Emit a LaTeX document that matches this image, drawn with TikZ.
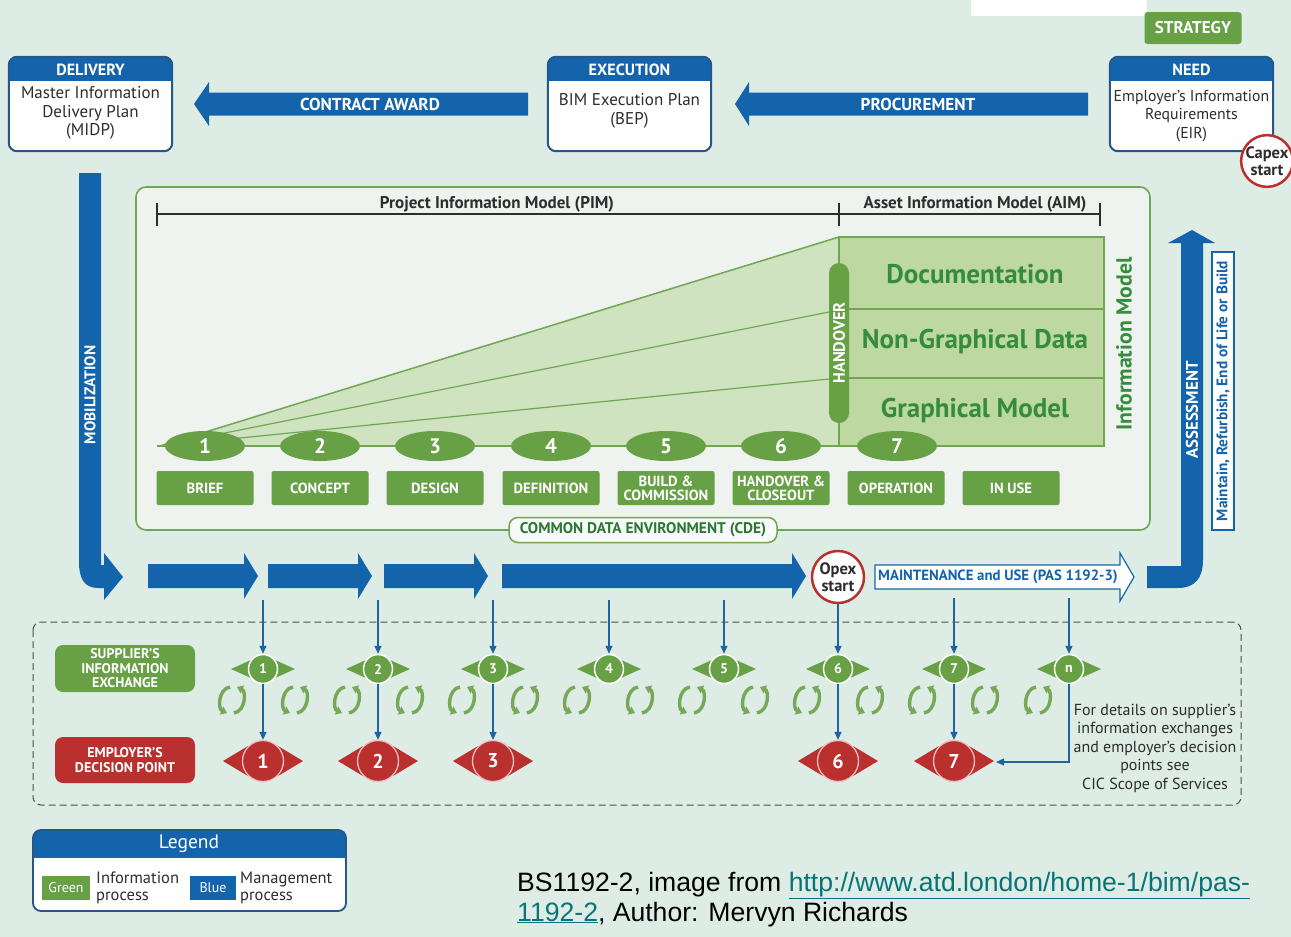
\documentclass[tikz,border=0pt]{standalone}
\usepackage{fontspec}
\setmainfont{PT Sans}
\newfontfamily\capfont{Liberation Sans}
\usetikzlibrary{arrows.meta,shapes.geometric,calc}

\definecolor{bgmint}{RGB}{221,237,229}
\definecolor{panelbg}{RGB}{238,243,239}
\definecolor{mblue}{RGB}{20,100,172}
\definecolor{bdrblue}{RGB}{38,86,138}
\definecolor{igreen}{RGB}{104,160,70}
\definecolor{lngreen}{RGB}{112,166,82}
\definecolor{dgreen}{RGB}{52,140,60}
\definecolor{wedgefill}{RGB}{207,227,193}
\definecolor{aimfill}{RGB}{190,216,162}
\definecolor{cycgreen}{RGB}{118,168,88}
\definecolor{dred}{RGB}{186,48,46}
\definecolor{thinblue}{RGB}{30,100,160}
\definecolor{txtgray}{RGB}{45,45,45}
\definecolor{linkteal}{RGB}{10,115,120}

\newcommand\fsz[2]{\fontsize{#1}{#2}\selectfont}

\tikzset{
  hdrtext/.style={text=white,font=\fsz{16.2}{18}\bfseries,inner sep=0pt},
  bodytext/.style={text=txtgray,align=center,inner sep=0pt},
  boxbody/.style={fill=white,minimum width=163pt,minimum height=94pt,inner sep=0pt},
  arrowtext/.style={text=white,font=\fsz{17.2}{18}\bfseries,inner sep=0pt},
  stageell/.style={ellipse,fill=igreen,minimum width=80pt,minimum height=30pt,inner sep=0pt,
    text=white,font=\fsz{21}{21}\bfseries},
  stagebox/.style={rectangle,rounded corners=2pt,fill=igreen,minimum width=97pt,minimum height=34pt,
    inner sep=0pt,text=white,font=\fsz{14.7}{14}\bfseries,align=center},
  aimtext/.style={text=dgreen,font=\fsz{27}{28}\bfseries,inner sep=0pt},
  suppmark/.style={circle,fill=igreen,draw=white,line width=1.5pt,minimum size=29pt,inner sep=0pt,
    text=white,font=\fsz{14}{14}\bfseries},
  decmark/.style={circle,fill=dred,draw=white!70!dred,line width=1.3pt,minimum size=41pt,inner sep=0pt,
    text=white,font=\fsz{20}{20}\bfseries},
  thinarrow/.style={thinblue,line width=1.4pt,-{Triangle[length=8pt,width=7pt]}},
  cycarrow/.style={cycgreen,line width=3.4pt,-{Triangle[length=6pt,width=8.5pt]}},
  startcirc/.style={circle,draw=dred,line width=2.5pt,fill=white,inner sep=0pt,align=center,
    text=txtgray,font=\fsz{16.5}{17}\bfseries},
  sidebox/.style={rectangle,rounded corners=8pt,minimum width=140pt,inner sep=0pt,align=center,
    text=white,font=\fsz{14}{14.5}\bfseries},
}

% header box at the top row: name, left x, right x, title, body text, body centre y, body font size
\newcommand\topbox[7]{%
  \node[boxbody] (#1) at ({(#2+#3)/2},104) {};
  \begin{scope}
    \clip[rounded corners=8pt] (#1.north west) rectangle (#1.south east);
    \fill[mblue] (#1.north west) rectangle ($(#1.north east)+(0,24)$);
  \end{scope}
  \draw[bdrblue,line width=2pt,rounded corners=8pt] (#1.north west) rectangle (#1.south east);
  \node[hdrtext] at ({(#2+#3)/2},69.5) {#4};
  \node[bodytext,font=\fsz{#7}{18.5}] at ({(#2+#3)/2},#6) {#5};
}
% blue process arrow pointing left: tip x, head base x, tail x, centre y
\newcommand\larrow[4]{%
  \fill[mblue] (#3,#4-11.5) -- (#2,#4-11.5) -- (#2,#4-22) -- (#1,#4) -- (#2,#4+22)
    -- (#2,#4+11.5) -- (#3,#4+11.5) -- cycle;
}
% blue process arrow pointing right: tail x, head base x, tip x, centre y
\newcommand\rarrow[4]{%
  \fill[mblue] (#1,#4-12) -- (#2,#4-12) -- (#2,#4-23) -- (#3,#4) -- (#2,#4+23)
    -- (#2,#4+12) -- (#1,#4+12) -- cycle;
}
% supplier's information exchange marker: name, x, label
\newcommand\supp[3]{%
  \fill[igreen] ({#2-32},669) -- ({#2-12},660) -- ({#2-12},678) -- cycle;
  \fill[igreen] ({#2+32},669) -- ({#2+12},660) -- ({#2+12},678) -- cycle;
  \node[suppmark] (#1) at (#2,669) {#3};
}
% employer's decision point marker: name, x, label
\newcommand\decis[3]{%
  \fill[dred] ({#2-40},761) -- ({#2-15},746) -- ({#2-15},776) -- cycle;
  \fill[dred] ({#2+40},761) -- ({#2+15},746) -- ({#2+15},776) -- cycle;
  \node[decmark] (#1) at (#2,761) {#3};
}
% pair of circular arrows centred at x
\newcommand\cyc[1]{%
  \draw[cycarrow] ({#1-2},687) .. controls ({#1-14},689) and ({#1-14},709) .. ({#1-5},713);
  \draw[cycarrow] ({#1+2},713) .. controls ({#1+14},711) and ({#1+14},691) .. ({#1+5},687);
}

\begin{document}
\begin{tikzpicture}[x=1pt,y=-1pt]
\useasboundingbox (0,0) rectangle (1291,937);
\fill[bgmint] (0,0) rectangle (1291,937);
\fill[white] (971,0) rectangle (1147,16);

% ---------- top row ----------
\node[rectangle,rounded corners=3pt,fill=igreen,minimum width=97pt,minimum height=32pt,
  text=white,font=\fsz{17}{17}\bfseries] (strategy) at (1193,28) {STRATEGY};

\topbox{delivery}{9}{172}{DELIVERY}{Master Information\\Delivery Plan\\(MIDP)}{113}{17}
\topbox{execution}{548}{711}{EXECUTION}{BIM Execution Plan\\(BEP)}{111}{17}
\topbox{need}{1110}{1273}{NEED}{Employer’s Information\\Requirements\\(EIR)}{116}{15.8}

\node[startcirc,minimum size=50pt] (capex) at (1267,161) {Capex\\start};

\larrow{194}{209}{528}{104}
\node[arrowtext] (award) at (370,104) {CONTRACT AWARD};
\larrow{735}{749}{1088}{104}
\node[arrowtext] (procure) at (918,104) {PROCUREMENT};

% ---------- mobilization ----------
\fill[mblue] (79,173) -- (101,173) -- (101,565) -- (104,565) -- (104,553) -- (123,577)
  -- (104,600) -- (104,588) -- (98,588) .. controls (84,588) and (79,578) .. (79,562) -- cycle;
\node[rotate=90,text=white,font=\fsz{15.5}{16}\bfseries,inner sep=0pt] (mobil) at (90,395) {MOBILIZATION};

% ---------- common data environment panel ----------
\draw[lngreen,line width=1.6pt,fill=panelbg,rounded corners=10pt] (136,187) rectangle (1150,530);

% PIM / AIM brackets
\draw[txtgray,line width=1.2pt] (157,214) -- (1100,214);
\foreach \tx in {157,839,1100} {\draw[txtgray,line width=1.2pt] (\tx,203) -- (\tx,226);}
\node[text=txtgray,font=\fsz{17}{17}\bfseries,inner sep=0pt] (pim) at (497,204) {Project Information Model (PIM)};
\node[text=txtgray,font=\fsz{17}{17}\bfseries,inner sep=0pt] (aim) at (975,204) {Asset Information Model (AIM)};

% growing information wedge
\fill[wedgefill] (160,446) -- (839,237) -- (839,446) -- cycle;
\draw[lngreen,line width=1.5pt] (160,446) -- (839,237);
\draw[lngreen,line width=1.2pt] (160,446) -- (839,310);
\draw[lngreen,line width=1.2pt] (160,446) -- (839,378);

% asset information block
\draw[lngreen,line width=1.5pt,fill=aimfill] (839,237) rectangle (1104,446);
\draw[lngreen,line width=1.2pt] (839,309) -- (1104,309);
\draw[lngreen,line width=1.2pt] (839,378) -- (1104,378);
\draw[lngreen,line width=2pt] (157,446) -- (1104,446);
\node[aimtext] (doc) at (975,274) {Documentation};
\node[aimtext] (ngd) at (975,342) {Non-Graphical Data};
\node[aimtext] (gm) at (975,411) {Graphical Model};
\node[rotate=90,text=dgreen,font=\fsz{21.7}{22}\bfseries,inner sep=0pt] (infomodel) at (1124,344) {Information Model};

\node[rotate=90,rectangle,rounded corners=10pt,fill=igreen,minimum width=160pt,minimum height=20pt,
  inner sep=0pt,text=white,font=\fsz{16.5}{16}\bfseries] (handover) at (839,343) {HANDOVER};

% stages
\foreach \n/\sx in {1/205,2/320,3/435,4/551,5/666,6/781,7/897}
  {\node[stageell] (e\n) at (\sx,446) {\n};}
\node[stagebox] (st1) at (205,488) {BRIEF};
\node[stagebox] (st2) at (320,488) {CONCEPT};
\node[stagebox] (st3) at (435,488) {DESIGN};
\node[stagebox] (st4) at (551,488) {DEFINITION};
\node[stagebox] (st5) at (666,488) {BUILD \&\\COMMISSION};
\node[stagebox] (st6) at (781,488) {HANDOVER \&\\CLOSEOUT};
\node[stagebox] (st7) at (896,488) {OPERATION};
\node[stagebox] (st8) at (1011,488) {IN USE};

\node[rectangle,rounded corners=9pt,draw=lngreen,line width=1.5pt,fill=white!55!panelbg,
  minimum width=268pt,minimum height=25pt,inner sep=0pt,text=dgreen!85!black,
  font=\fsz{15.4}{15}\bfseries] (cde) at (643,530) {COMMON DATA ENVIRONMENT (CDE)};

% ---------- assessment ----------
\fill[mblue] (1147,566) -- (1181,566) -- (1181,243) -- (1168,243) -- (1192,230) -- (1215,243)
  -- (1203,243) -- (1203,560) .. controls (1203,578) and (1195,588) .. (1178,588) -- (1147,588) -- cycle;
\node[rotate=90,text=white,font=\fsz{16.8}{17}\bfseries,inner sep=0pt] (assess) at (1192,410) {ASSESSMENT};
\node[rotate=90,rectangle,draw=mblue,line width=1.3pt,fill=white,minimum width=278pt,minimum height=22pt,
  inner sep=0pt,text=mblue,font=\fsz{15.3}{15}\bfseries] (maint) at (1223,391) {Maintain, Refurbish, End of Life or Build};

% ---------- delivery flow ----------
\rarrow{148}{244}{258}{576}
\rarrow{268}{358}{372}{576}
\rarrow{384}{474}{488}{576}
\rarrow{502}{792}{806}{576}
\node[startcirc,minimum size=52pt] (opex) at (838,577) {Opex\\start};
\draw[mblue,line width=1.2pt,fill=white] (875,565) -- (1120,565) -- (1120,553) -- (1134,577)
  -- (1120,601) -- (1120,589) -- (875,589) -- cycle;
\node[text=mblue,font=\fsz{14.8}{15}\bfseries,inner sep=0pt] (mainuse) at (998,577) {MAINTENANCE and USE (PAS 1192-3)};

% ---------- exchanges and decision points ----------
\draw[txtgray!85,line width=1pt,dash pattern=on 7pt off 4pt,rounded corners=8pt] (33,622) rectangle (1241,805);

\node[sidebox,fill=igreen,minimum height=47pt] (supplab) at (125,668.5) {SUPPLIER’S\\INFORMATION\\EXCHANGE};
\node[sidebox,fill=dred,minimum height=46pt] (emplab) at (125,760) {EMPLOYER’S\\DECISION POINT};

\foreach \cx in {232,295,347,410,462,525,577,640,692,755,807,870,922,985,1038} {\cyc{\cx}}

\supp{s1}{263}{1}
\supp{s2}{378}{2}
\supp{s3}{493}{3}
\supp{s4}{609}{4}
\supp{s5}{724}{5}
\supp{s6}{838}{6}
\supp{s7}{954}{7}
\supp{sn}{1069}{n}

\decis{d1}{263}{1}
\decis{d2}{378}{2}
\decis{d3}{493}{3}
\decis{d6}{838}{6}
\decis{d7}{954}{7}

\coordinate (f1) at (263,600);
\coordinate (f2) at (378,600);
\coordinate (f3) at (493,600);
\coordinate (f4) at (609,600);
\coordinate (f5) at (724,600);
\coordinate (f7) at (954,598);
\coordinate (fn) at (1069,598);
\coordinate (d7tip) at (996,762);

\foreach \k in {1,2,3,4,5,7,n} {\draw[thinarrow] (f\k) -- (s\k.north);}
\draw[thinarrow] (opex.south) -- (s6.north);
\foreach \k in {1,2,3,6,7} {\draw[thinarrow] (s\k.south) -- (d\k.north);}
\draw[thinarrow] (sn.south) |- (d7tip);

\node[align=center,text=txtgray,font=\fsz{16}{18.5}\selectfont,inner sep=0pt] (cicnote) at (1155,748)
  {For details on supplier’s\\information exchanges\\and employer’s decision\\points see\\CIC Scope of Services};

% ---------- legend ----------
\begin{scope}
  \clip[rounded corners=8pt] (33,830) rectangle (346,911);
  \fill[white] (33,830) rectangle (346,911);
  \fill[mblue] (33,830) rectangle (346,858);
\end{scope}
\draw[bdrblue,line width=1.8pt,rounded corners=8pt] (33,830) rectangle (346,911);
\node[text=white,font=\fsz{19.5}{20}\selectfont,inner sep=0pt] (legend) at (189,844) {Legend};
\node[rectangle,fill=igreen,minimum width=48pt,minimum height=24pt,inner sep=0pt,text=white,
  font=\fsz{14}{14}\selectfont] (lgreen) at (66,888) {Green};
\node[anchor=west,align=left,text=txtgray,font=\fsz{16.5}{17}\selectfont,inner sep=0pt] (linfo) at (96,888) {Information\\process};
\node[rectangle,fill=mblue,minimum width=46pt,minimum height=24pt,inner sep=0pt,text=white,
  font=\fsz{14}{14}\selectfont] (lblue) at (213,888) {Blue};
\node[anchor=west,align=left,text=txtgray,font=\fsz{16.5}{17}\selectfont,inner sep=0pt] (lmgmt) at (240,888) {Management\\process};

% ---------- source line ----------
\node[anchor=base west,inner sep=0pt,font=\capfont\fsz{26.6}{30}] (src1) at (517,891)
  {BS1192-2, image from \textcolor{linkteal}{\underline{http://www.atd.london/home-1/bim/pas-}}};
\node[anchor=base west,inner sep=0pt,font=\capfont\fsz{26.6}{30}] (src2) at (517,921)
  {\textcolor{linkteal}{\underline{1192-2}}, Author: Mervyn Richards};
\end{tikzpicture}
\end{document}
